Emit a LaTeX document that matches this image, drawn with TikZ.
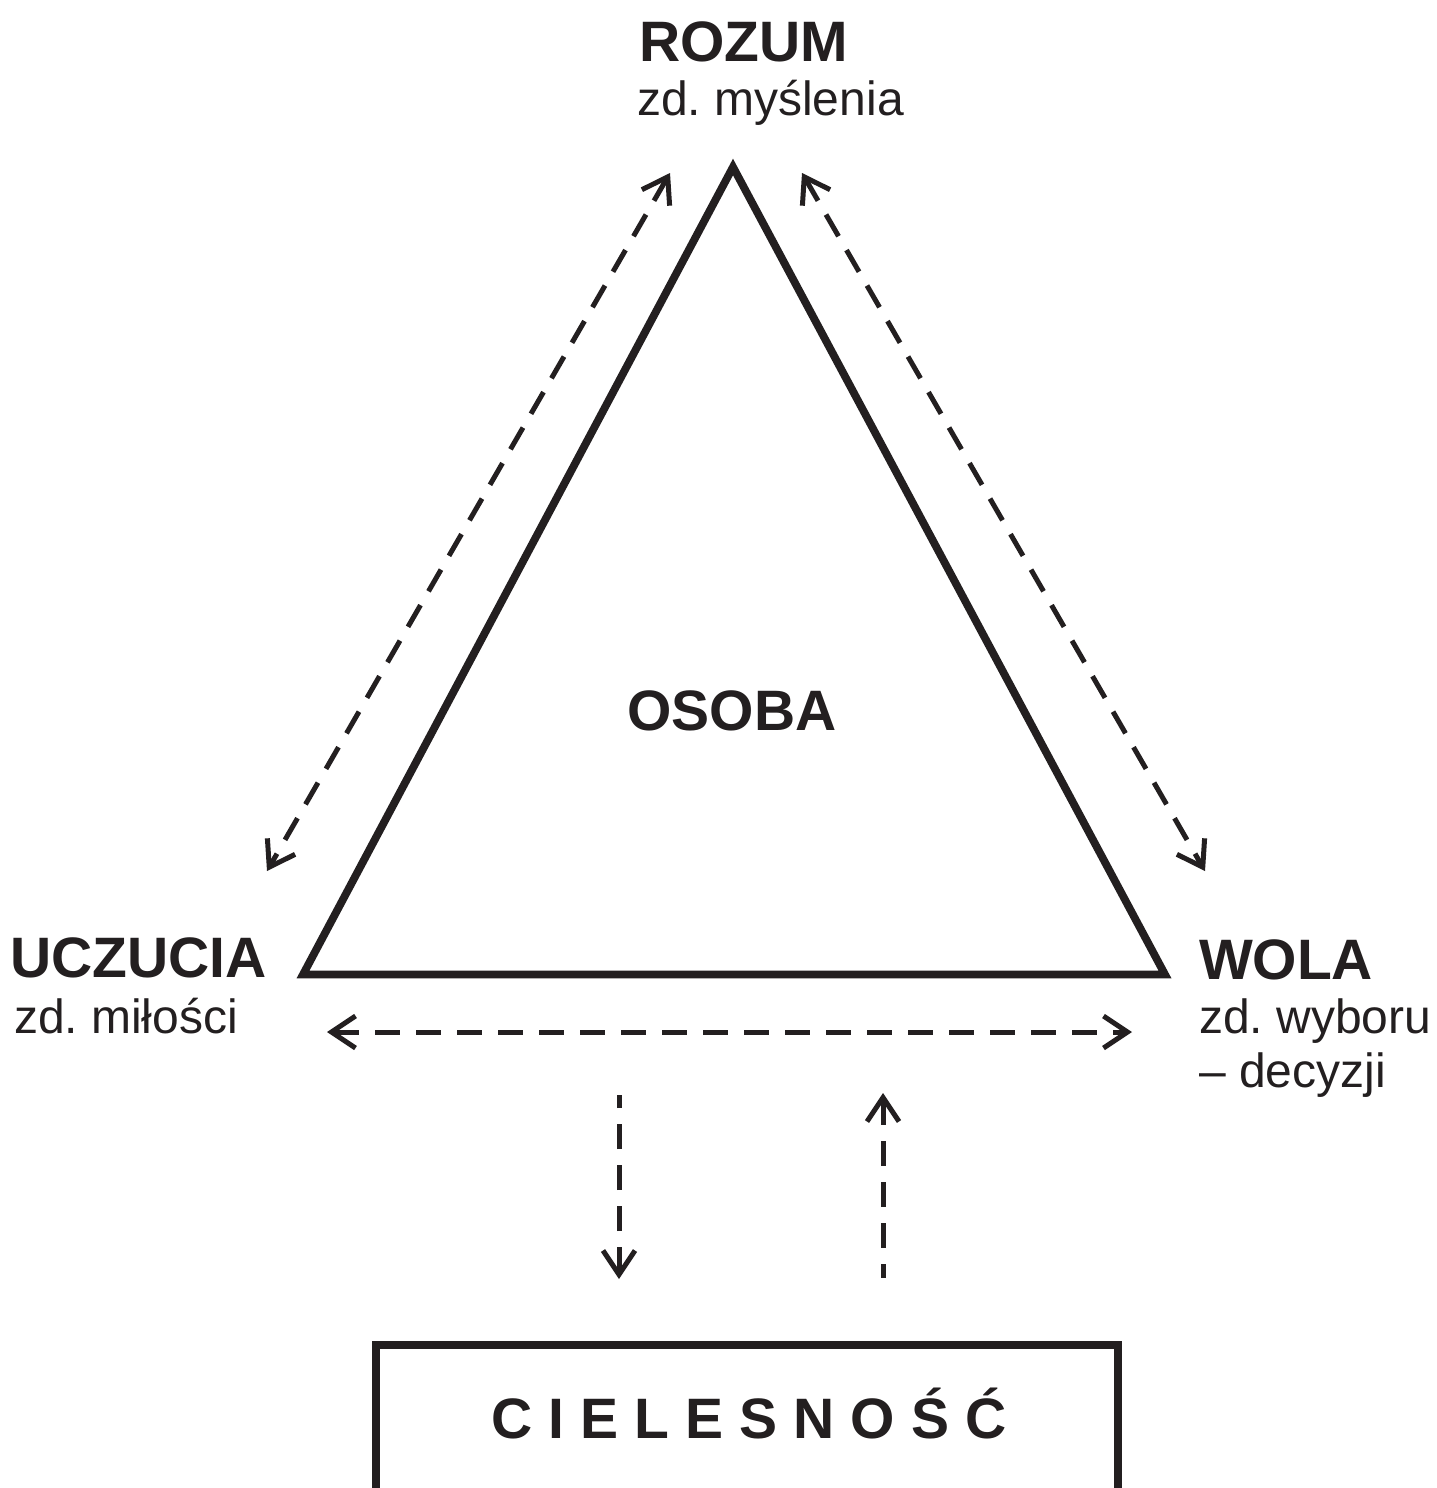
\documentclass[tikz,border=0pt]{standalone}
\usepackage{fontspec}
\setmainfont{Liberation Sans}
\usetikzlibrary{arrows.meta}
\definecolor{ink}{HTML}{231F20}
\newcommand\bigbold{\fontsize{57}{60}\selectfont\bfseries}
\newcommand\subtxt{\fontsize{48}{54}\selectfont}
\newcommand\lsp{\hspace{16pt}}
\frenchspacing
\begin{document}
\begin{tikzpicture}[x=1pt,y=-1pt,
  lbl/.style={inner sep=0pt,outer sep=0pt,anchor=base west,text=ink},
  tri/.style={draw=ink,line width=7.8pt,line join=miter},
  dashconn/.style={draw=ink,line width=5pt,dash pattern=on 25pt off 16pt,
    >={Straight Barb[length=24pt,width=32pt,line width=5pt]}},
  boxst/.style={draw=ink,line width=7.8pt,minimum width=742pt,minimum height=200pt,anchor=north,inner sep=0pt}]
\useasboundingbox (0,0) rectangle (1436,1488);
\clip (0,0) rectangle (1436,1488);
\fill[white] (0,0) rectangle (1436,1488);
% texts
\node[lbl] (rozum) at (639,62) {\bigbold ROZUM};
\node[lbl] (rozumsub) at (637,115) {\subtxt zd. myślenia};
\node[lbl] (uczucia) at (10,977) {\bigbold UCZUCIA};
\node[lbl] (uczuciasub) at (14,1033) {\subtxt zd. miłości};
\node[lbl] (wola) at (1199,979) {\bigbold WOLA};
\node[lbl] (wolasub) at (1199,1033) {\subtxt zd. wyboru};
\node[lbl] (wolasub2) at (1199,1087) {\subtxt – decyzji};
\node[lbl,anchor=base] (osoba) at (732,730) {\bigbold OSOBA};
% triangle
\coordinate (apex) at (733,167);
\coordinate (bl) at (303,974.5);
\coordinate (br) at (1165,974.5);
\draw[tri] (apex) -- (bl) -- (br) -- cycle;
% box
\node[boxst] (body) at (747,1341) {};
\node[lbl,anchor=base] (bodytxt) at (749,1438) {\bigbold C\lsp I\lsp E\lsp L\lsp E\lsp S\lsp N\lsp O\lsp Ś\lsp Ć};
% arrow end points
\coordinate (lt) at (670,173);
\coordinate (lb) at (267,871);
\coordinate (rt) at (802,173);
\coordinate (rb) at (1205,871);
\coordinate (hl) at (327,1032);
\coordinate (hr) at (1132,1032);
\coordinate (dtop) at (619,1095);
\coordinate (dtip) at (619,1279);
\coordinate (utip) at (883,1093);
\coordinate (ubot) at (883,1278);
\draw[dashconn,<->] (lt) -- (lb);
\draw[dashconn,<->] (rt) -- (rb);
\draw[dashconn,<->] (hl) -- (hr);
\draw[dashconn,<-] (dtip) -- (dtop);
\draw[dashconn,<-] (utip) -- (ubot);
\end{tikzpicture}
\end{document}
